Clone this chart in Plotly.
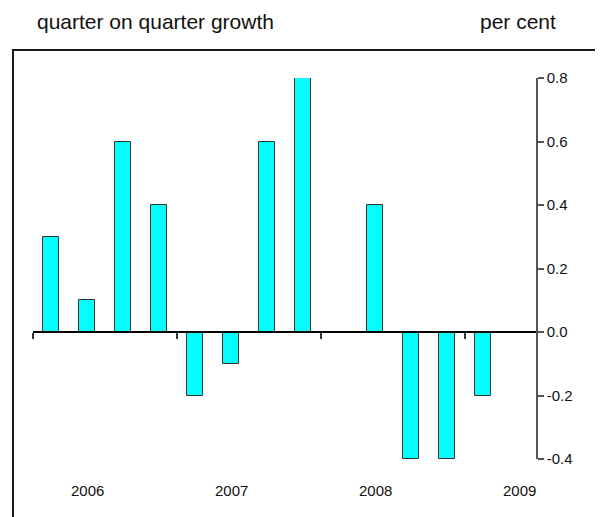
import plotly.graph_objects as go

# ---- data ----
quarters = ["2006Q1", "2006Q2", "2006Q3", "2006Q4",
            "2007Q1", "2007Q2", "2007Q3", "2007Q4",
            "2008Q1", "2008Q2", "2008Q3", "2008Q4",
            "2009Q1"]
growth = [0.3, 0.1, 0.6, 0.4,
          -0.2, -0.1, 0.6, 0.8,
          0.0, 0.4, -0.4, -0.4,
          -0.2]
years = ["2006", "2007", "2008", "2009"]
y_ticks = [-0.4, -0.2, 0.0, 0.2, 0.4, 0.6, 0.8]
y_tick_text = ["%.1f" % v for v in y_ticks]  # plain hyphen minus

title_left = "quarter on quarter growth"
title_right = "per cent"

# ---- geometry (page has an 8px body margin) ----
OFF = 8
W, H = 603 - OFF, 517 - OFF
L, R, T, B = 33 - OFF, W - (537 - OFF), 78 - OFF, H - (459 - OFF)
plot_h = H - T - B
plot_w = W - L - R
xpos = list(range(len(quarters)))
n_slots = 14  # 3.5 years of quarters shown


def py(pix):  # screen pixel row -> paper y
    return (H - B - (pix - OFF)) / plot_h


def px(pix):  # screen pixel column -> paper x
    return ((pix - OFF) - L) / plot_w


font_fam = "Liberation Sans, Arial, sans-serif"

fig = go.Figure()
fig.add_trace(go.Bar(
    x=xpos, y=growth, width=0.42,
    marker=dict(color="#00FFFF", line=dict(color="#333333", width=1)),
    hoverinfo="y", showlegend=False,
))

year_boundaries = [4 * i - 0.5 for i in range(len(years))]
fig.update_layout(
    width=W, height=H,
    margin=dict(l=L, r=R, t=T, b=B),
    paper_bgcolor="white", plot_bgcolor="white",
    xaxis=dict(
        range=[-0.5, n_slots - 0.5],
        anchor="free", position=(0 - y_ticks[0]) / (y_ticks[-1] - y_ticks[0]),
        showline=True, linecolor="#000000", linewidth=2,
        ticks="outside", ticklen=6, tickwidth=1.5, tickcolor="#333333",
        tickvals=year_boundaries, showticklabels=False,
        showgrid=False, zeroline=False, fixedrange=True,
    ),
    yaxis=dict(
        range=[y_ticks[0], y_ticks[-1]],
        side="right", anchor="free", position=1.0,
        showline=True, linecolor="#555555", linewidth=1.5,
        ticks="outside", ticklen=6, tickwidth=1.5, tickcolor="#555555",
        tickvals=y_ticks, ticktext=y_tick_text,
        tickfont=dict(family=font_fam, size=15, color="#111111"),
        showgrid=False, zeroline=False, fixedrange=True,
    ),
    bargap=0,
)

# year labels under the plot, at second quarter of each year
for i, yr in enumerate(years):
    fig.add_annotation(
        x=4 * i + 1, xref="x", y=py(490), yref="paper",
        text=yr, showarrow=False, xanchor="center", yanchor="middle",
        font=dict(family=font_fam, size=15, color="#111111"),
    )

fig.add_annotation(
    x=px(35), xref="paper", y=py(22), yref="paper",
    text=title_left, showarrow=False, xanchor="left", yanchor="middle",
    font=dict(family=font_fam, size=21, color="#111111"),
)
fig.add_annotation(
    x=px(478), xref="paper", y=py(22), yref="paper",
    text=title_right, showarrow=False, xanchor="left", yanchor="middle",
    font=dict(family=font_fam, size=21, color="#111111"),
)

# outer frame (bottom edge lies outside the picture)
fig.add_shape(
    type="rect", xref="paper", yref="paper",
    x0=px(13), x1=px(600), y0=py(540), y1=py(50),
    line=dict(color="#1a1a1a", width=2), fillcolor="rgba(0,0,0,0)",
    layer="below",
)

fig.write_html("out.html")
